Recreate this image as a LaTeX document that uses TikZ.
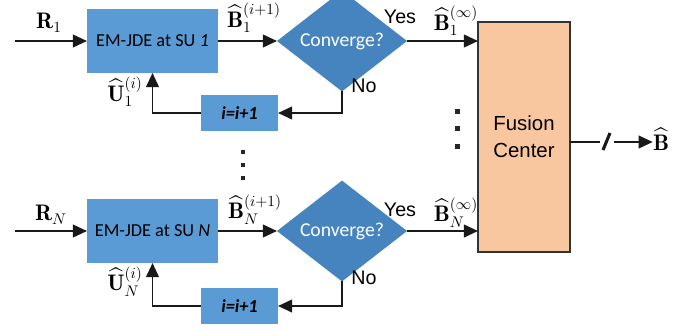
\documentclass[tikz,border=0pt]{standalone}
\usepackage{amsmath}
\usepackage{fontspec}
\setsansfont{Liberation Sans}
\newfontfamily\calibrifont{Carlito}
\usetikzlibrary{shapes.geometric,arrows.meta}

\definecolor{emblue}{RGB}{91,155,213}
\definecolor{dmblue}{RGB}{70,132,192}
\definecolor{fcpeach}{RGB}{248,199,160}

\tikzset{
  embox/.style={fill=emblue, minimum width=3.275cm, minimum height=1.6cm,
    inner sep=0pt, outer sep=0pt, font=\calibrifont\fontsize{13}{15}\selectfont},
  incbox/.style={fill=emblue, minimum width=1.925cm, minimum height=0.9cm,
    inner sep=0pt, outer sep=0pt, font=\calibrifont\bfseries\itshape\fontsize{13}{15}\selectfont},
  convnode/.style={diamond, fill=dmblue, minimum width=3.25cm, minimum height=1.9cm,
    inner sep=0pt, outer sep=0pt, text=white, font=\calibrifont\fontsize{14}{16}\selectfont},
  fcbox/.style={fill=fcpeach, draw=black!80, line width=0.9pt, minimum width=2.3cm,
    minimum height=5.75cm, inner sep=0pt, outer sep=0pt, align=center,
    font=\sffamily\fontsize{14.5}{19}\selectfont},
  yesno/.style={inner sep=0pt, font=\sffamily\fontsize{14}{16}\selectfont},
  mlbl/.style={inner sep=0pt, font=\fontsize{16}{18}\selectfont},
  flow/.style={line width=1.4pt, black!90}
}

\begin{document}
\begin{tikzpicture}[x=0.025cm, y=-0.025cm, >={Triangle[length=10pt,width=9pt]}]
    \useasboundingbox (0,0) rectangle (688,330);

    % ==================== SU 1 ====================
    \coordinate (in1) at (15,41);
    \node[embox] (em1) at (152.5,41) {EM-JDE at SU \textit{1}};
    \node[convnode] (cv1) at (342,41) {Converge?};
    \node[incbox] (ii1) at (239.5,113) {i=i+1};

    \draw[flow, ->] (in1) -- (em1.west);
    \draw[flow, ->] (em1.east) -- (cv1.west);
    \draw[flow, ->] (cv1.south) |- (ii1.east);
    \draw[flow, ->] (ii1.west) -| (em1.south);

    \node[mlbl] (r1) at (49,23) {$\mathbf{R}_1$};
    \node[mlbl] (b1) at (254,18) {$\widehat{\mathbf{B}}_1^{(i+1)}$};
    \node[mlbl] (u1) at (125,92) {$\widehat{\mathbf{U}}_1^{(i)}$};
    \node[yesno] (yes1) at (400,17) {Yes};
    \node[yesno] (no1) at (364,86) {No};
    \node[mlbl] (binf1) at (456,21) {$\widehat{\mathbf{B}}_1^{(\infty)}$};

    % ==================== SU N ====================
    \coordinate (inN) at (15,231);
    \node[embox] (emN) at (152.5,231) {EM-JDE at SU \textit{N}};
    \node[convnode] (cvN) at (342,231) {Converge?};
    \node[incbox] (iiN) at (239.5,306) {i=i+1};

    \draw[flow, ->] (inN) -- (emN.west);
    \draw[flow, ->] (emN.east) -- (cvN.west);
    \draw[flow, ->] (cvN.south) |- (iiN.east);
    \draw[flow, ->] (iiN.west) -| (emN.south);

    \node[mlbl] (rN) at (51,215) {$\mathbf{R}_N$};
    \node[mlbl] (bN) at (255,210) {$\widehat{\mathbf{B}}_N^{(i+1)}$};
    \node[mlbl] (uN) at (125,282) {$\widehat{\mathbf{U}}_N^{(i)}$};
    \node[yesno] (yesN) at (400,210) {Yes};
    \node[yesno] (noN) at (364,278) {No};
    \node[mlbl] (binfN) at (456,213) {$\widehat{\mathbf{B}}_N^{(\infty)}$};

    % ==================== Fusion center ====================
    \node[fcbox] (fc) at (524,137) {Fusion\\Center};
    \draw[flow, ->] (cv1.east) -- (cv1.east -| fc.west);
    \draw[flow, ->] (cvN.east) -- (cvN.east -| fc.west);

    \coordinate (cut1) at (600,142);
    \coordinate (cut2) at (614,142);
    \node[mlbl] (bout) at (661,139) {$\widehat{\mathbf{B}}$};
    \draw[flow] (fc.east |- cut1) -- (cut1);
    \draw[line width=2.2pt, black!90] (603,150) -- (610,133);
    \draw[flow, ->] (cut2) -- (bout.west |- cut2);

    % dots
    \foreach \y in {152,165,178}
        \fill[black!85] (241,\y-2) rectangle +(4,4);
    \foreach \y in {111,128,146}
        \fill[black!85] (454.5,\y-2.5) rectangle +(5,5);
\end{tikzpicture}
\end{document}
